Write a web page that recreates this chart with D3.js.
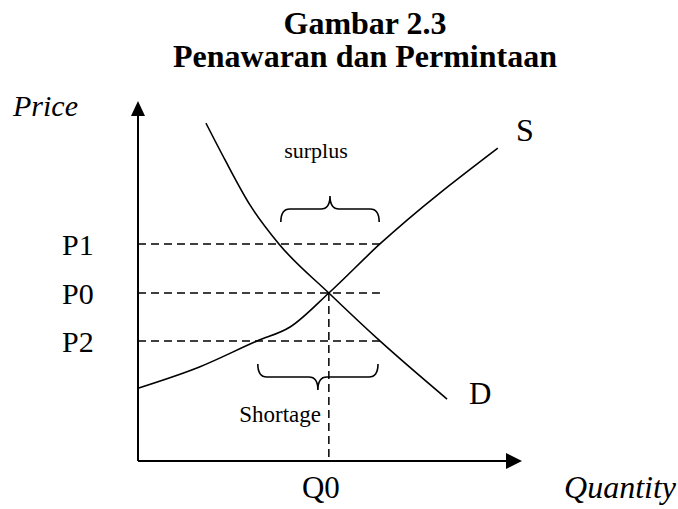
<!DOCTYPE html>
<html>
<head>
<meta charset="utf-8">
<script src="https://cdn.jsdelivr.net/npm/d3@7"></script>
<style>
  body { margin: 0; background: #fff; }
  text { font-family: "Liberation Serif", "Times New Roman", serif; fill: #000; }
</style>
</head>
<body>
<div id="chart"></div>
<script>
// supply and demand curves (quantity 0-100, price 0-100)
const supplyQ = [0, 16, 31, 39.6, 49.7, 63, 93.7];
const supplyP = [19.9, 25.7, 32.8, 36.6, 45.9, 59.3, 85.5];
const demandQ = [17.7, 22.7, 29.2, 36.7, 49.7, 63, 80.5];
const demandP = [92.3, 82.2, 69.9, 59.3, 45.9, 32.8, 16.9];

const priceLabels = ["P1", "P0", "P2"];
const priceLevels = [59.3, 45.9, 32.8];
const qtyLabels = ["Q0"];
const qtyLevels = [49.7];

// braces: quantity span
const surplusSpan = [37.2, 62.8];
const shortageSpan = [31.2, 62.5];

function buildChart() {
  const W = 678, H = 509;
  const svg = d3.select("#chart").append("svg")
    .attr("width", W).attr("height", H);

  const x = d3.scaleLinear().domain([0, 100]).range([138, 522]);
  const y = d3.scaleLinear().domain([0, 100]).range([461, 95]);

  // title
  svg.append("text").attr("x", 365).attr("y", 34)
    .attr("text-anchor", "middle").attr("font-size", 32).attr("font-weight", "bold")
    .text("Gambar 2.3");
  svg.append("text").attr("x", 365).attr("y", 67)
    .attr("text-anchor", "middle").attr("font-size", 32).attr("font-weight", "bold")
    .text("Penawaran dan Permintaan");

  // dashed guides
  const dash = svg.append("g").attr("stroke", "#000").attr("stroke-width", 1.5)
    .attr("stroke-dasharray", "8,5").attr("fill", "none");
  priceLevels.forEach(p => {
    dash.append("line").attr("x1", x(0)).attr("x2", x(63))
      .attr("y1", y(p)).attr("y2", y(p));
  });
  qtyLevels.forEach(q => {
    dash.append("line").attr("x1", x(q)).attr("x2", x(q))
      .attr("y1", y(priceLevels[1])).attr("y2", y(0));
  });

  // axes with arrows
  const ax = svg.append("g");
  ax.append("line").attr("x1", x(0)).attr("x2", x(0)).attr("y1", y(0)).attr("y2", y(96))
    .attr("stroke", "#000").attr("stroke-width", 2);
  ax.append("line").attr("x1", x(0)).attr("x2", x(96)).attr("y1", y(0)).attr("y2", y(0))
    .attr("stroke", "#000").attr("stroke-width", 2);
  ax.append("path")
    .attr("d", `M${x(0)},${y(100) + 6} L${x(0) - 7},${y(100) + 21} L${x(0) + 7},${y(100) + 21} Z`);
  ax.append("path")
    .attr("d", `M${x(100)},${y(0)} L${x(100) - 16},${y(0) - 8} L${x(100) - 16},${y(0) + 8} Z`);

  // curves
  const line = d3.line().x(d => x(d[0])).y(d => y(d[1])).curve(d3.curveMonotoneX);
  svg.append("path").datum(d3.zip(supplyQ, supplyP))
    .attr("d", line).attr("fill", "none").attr("stroke", "#000").attr("stroke-width", 1.6);
  svg.append("path").datum(d3.zip(demandQ, demandP))
    .attr("d", line).attr("fill", "none").attr("stroke", "#000").attr("stroke-width", 1.6);

  // braces
  function brace(x1, x2, yb, dir) {
    // dir -1 = points up, 1 = points down
    const h = 13, r = 6;
    const xm = (x1 + x2) / 2;
    const ym = yb + dir * h;
    return `M${x1},${yb} Q${x1},${ym} ${x1 + r * 1.5},${ym}` +
      ` L${xm - r * 1.5},${ym} Q${xm},${ym} ${xm},${ym + dir * h}` +
      ` Q${xm},${ym} ${xm + r * 1.5},${ym} L${x2 - r * 1.5},${ym}` +
      ` Q${x2},${ym} ${x2},${yb}`;
  }
  svg.append("path").attr("d", brace(x(surplusSpan[0]), x(surplusSpan[1]), y(priceLevels[0]) - 22, -1))
    .attr("fill", "none").attr("stroke", "#000").attr("stroke-width", 1.6);
  svg.append("path").attr("d", brace(x(shortageSpan[0]), x(shortageSpan[1]), y(priceLevels[2]) + 23, 1))
    .attr("fill", "none").attr("stroke", "#000").attr("stroke-width", 1.6);

  // labels
  svg.append("text").attr("x", 316).attr("y", 158).attr("text-anchor", "middle")
    .attr("font-size", 22).text("surplus");
  svg.append("text").attr("x", 321).attr("y", 422).attr("text-anchor", "end")
    .attr("font-size", 23).text("Shortage");

  svg.append("text").attr("x", 13).attr("y", 116).attr("font-size", 30)
    .attr("font-style", "italic").text("Price");
  svg.selectAll(".plab").data(priceLabels).enter().append("text")
    .attr("class", "plab").attr("x", 62).attr("y", (d, i) => y(priceLevels[i]) + 11)
    .attr("font-size", 30).text(d => d);
  svg.selectAll(".qlab").data(qtyLabels).enter().append("text")
    .attr("class", "qlab").attr("x", (d, i) => x(qtyLevels[i]) - 8).attr("y", 498)
    .attr("text-anchor", "middle").attr("font-size", 31).text(d => d);
  svg.append("text").attr("x", 676).attr("y", 498).attr("text-anchor", "end")
    .attr("font-size", 32).attr("font-style", "italic").text("Quantity");

  svg.append("text").attr("x", 516).attr("y", 141).attr("font-size", 32).text("S");
  svg.append("text").attr("x", 469).attr("y", 404).attr("font-size", 31).text("D");
}

buildChart();
</script>
</body>
</html>
